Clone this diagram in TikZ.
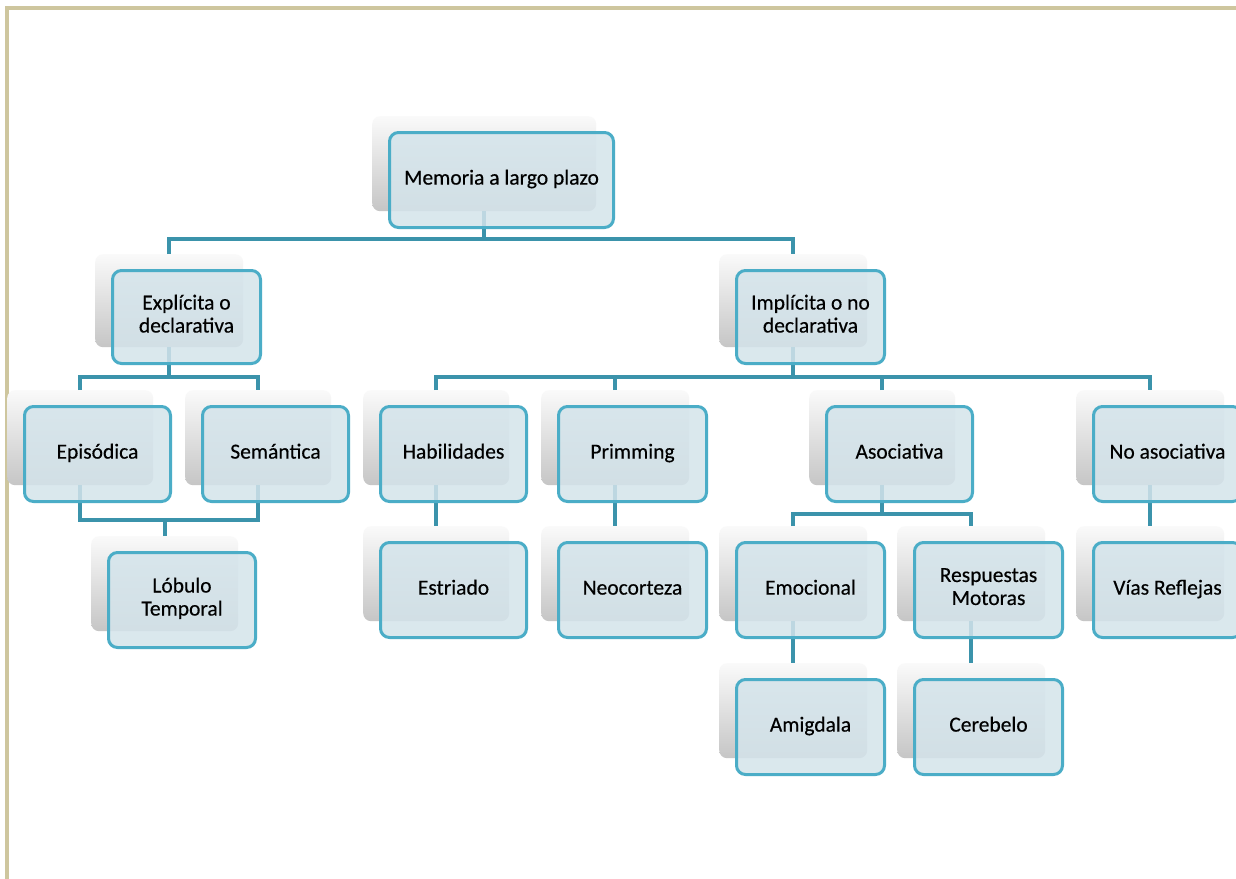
\documentclass[tikz,border=0pt]{standalone}
\usepackage{fontspec}
\setmainfont{Carlito}
\newfontfamily\boxfont[FakeBold=0.4]{Carlito}
\usetikzlibrary{positioning,calc}
\definecolor{frameC}{HTML}{CEC69E}
\definecolor{connC}{HTML}{3B93AB}
\definecolor{boxFill}{HTML}{D4E4EB}
\definecolor{boxLine}{HTML}{4BADC7}
\tikzset{
  shadowbox/.style={anchor=north west, rounded corners=8pt, top color=gray!4, bottom color=gray!45, minimum width=#1, minimum height=95pt, inner sep=0pt},
  frontbox/.style={anchor=north west, rounded corners=9pt, fill=boxFill, fill opacity=0.85, text opacity=1, draw=boxLine, line width=3pt, minimum height=95pt, inner sep=0pt, align=center, font=\boxfont\fontsize{21.5}{23}\selectfont, minimum width=#1, execute at begin node=\strut, execute at end node=\strut},
  conn/.style={draw=connC, line width=4pt},
}
\begin{document}
\begin{tikzpicture}[x=1pt,y=-1pt]
\useasboundingbox (0,0) rectangle (1236,878);
\clip (0,0) rectangle (1236,878);
\fill[white] (0,0) rectangle (1236,878);
% frame
\draw[frameC, line width=4pt] (7,880) -- (7,8) -- (1240,8);
% shadows
\node[shadowbox=224pt] (ms) at (372,116) {};
\node[shadowbox=148pt, minimum height=93pt] (exs) at (95,254) {};
\node[shadowbox=148pt, minimum height=93pt] (ims) at (719,254) {};
\node[shadowbox=146pt] (eps) at (7,390) {};
\node[shadowbox=146pt] (ses) at (185,390) {};
\node[shadowbox=147pt] (los) at (91,536) {};
\node[shadowbox=146pt] (has) at (363,390) {};
\node[shadowbox=148pt] (prs) at (541,390) {};
\node[shadowbox=146pt] (ass) at (809,390) {};
\node[shadowbox=148pt] (nas) at (1076,390) {};
\node[shadowbox=146pt] (ess) at (363,526) {};
\node[shadowbox=148pt] (nes) at (541,526) {};
\node[shadowbox=148pt] (ems) at (719,526) {};
\node[shadowbox=148pt] (res) at (897,526) {};
\node[shadowbox=148pt] (vis) at (1076,526) {};
\node[shadowbox=148pt] (ams) at (719,663) {};
\node[shadowbox=148pt] (ces) at (897,663) {};
% connectors
\draw[conn] (ms.south) -- ++(0,28) coordinate (j0);
\draw[conn] (exs.north) |- (j0) -| (ims.north);
\draw[conn] (exs.south) -- ++(0,30) coordinate (j1);
\draw[conn] (eps.north) |- (j1) -| (ses.north);
\draw[conn] (ims.south) -- ++(0,30) coordinate (j2);
\draw[conn] (has.north) |- (j2) -| (nas.north);
\draw[conn] (prs.north) -- (prs.north |- j2);
\draw[conn] (ass.north) -- (ass.north |- j2);
\draw[conn] (eps.south) -- ++(0,35) coordinate (j3) -| (ses.south);
\draw[conn] (los.north) -- (los.north |- j3);
\draw[conn] (has.south) -- (ess.north);
\draw[conn] (prs.south) -- (nes.north);
\draw[conn] (ass.south) -- ++(0,29) coordinate (j4);
\draw[conn] (ems.north) |- (j4) -| (res.north);
\draw[conn] (nas.south) -- (vis.north);
\draw[conn] (ems.south) -- (ams.north);
\draw[conn] (res.south) -- (ces.north);
% front boxes
\node[frontbox=224pt] (m) at (388,131) {Memoria a largo plazo};
\node[frontbox=148pt, minimum height=93pt] (ex) at (111,269) {Explícita o\\declarativa};
\node[frontbox=148pt, minimum height=93pt] (im) at (735,269) {Implícita o no\\declarativa};
\node[frontbox=146pt] (ep) at (23,405) {Episódica};
\node[frontbox=146pt] (se) at (201,405) {Semántica};
\node[frontbox=147pt] (lo) at (107,551) {Lóbulo\\Temporal};
\node[frontbox=146pt] (ha) at (379,405) {Habilidades};
\node[frontbox=148pt] (pr) at (557,405) {Primming};
\node[frontbox=146pt] (as) at (825,405) {Asociativa};
\node[frontbox=148pt] (na) at (1092,405) {No asociativa};
\node[frontbox=146pt] (es) at (379,541) {Estriado};
\node[frontbox=148pt] (ne) at (557,541) {Neocorteza};
\node[frontbox=148pt] (em) at (735,541) {Emocional};
\node[frontbox=148pt] (re) at (913,541) {Respuestas\\Motoras};
\node[frontbox=148pt] (vi) at (1092,541) {Vías Reflejas};
\node[frontbox=148pt] (am) at (735,678) {Amigdala};
\node[frontbox=148pt] (ce) at (913,678) {Cerebelo};
\end{tikzpicture}
\end{document}
